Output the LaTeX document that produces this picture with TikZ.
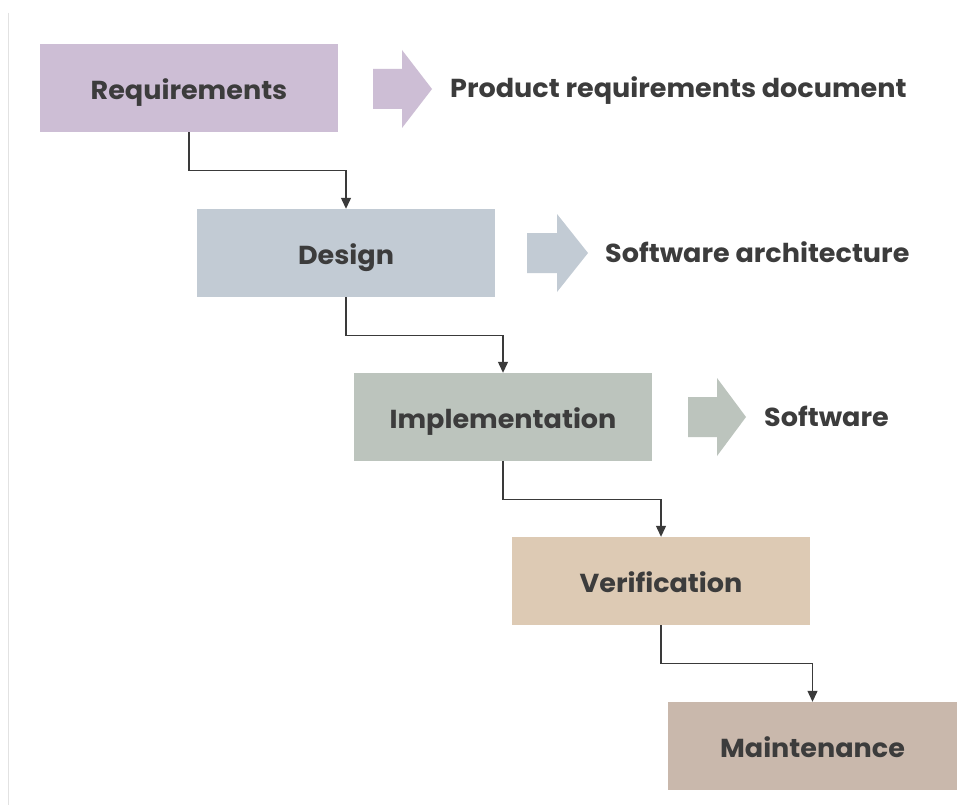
\documentclass[tikz,border=0pt]{standalone}
\usepackage{fontspec}
\setmainfont{Poppins}[FakeStretch=1.04]
\usetikzlibrary{arrows.meta,calc}

\definecolor{txt}{HTML}{3C3C3C}
\definecolor{wire}{HTML}{3A3A3A}
\definecolor{cReq}{HTML}{CDBED5}
\definecolor{cDes}{HTML}{C2CBD4}
\definecolor{cImp}{HTML}{BCC4BD}
\definecolor{cVer}{HTML}{DDCAB4}
\definecolor{cMai}{HTML}{C9B8AC}
\definecolor{rule}{HTML}{E2E2E2}

\tikzset{
  stage/.style={fill=#1, draw=none, minimum width=298pt, minimum height=88pt,
    inner sep=0pt, text=txt, text height=25pt, text depth=2pt,
    font=\fontsize{26}{30}\selectfont\bfseries},
  output/.style={anchor=base west, inner sep=0pt, text=txt,
    font=\fontsize{26}{30}\selectfont\bfseries},
  link/.style={draw=wire, line width=1.2pt, -{Triangle[width=10pt,length=11pt]}},
}

% block arrow: (shaft start x, head start x, tip x, centre y)
\newcommand{\blockarrow}[5]{%
  \fill[#5] (#1,#4-20) -- (#2,#4-20) -- (#2,#4-39) -- (#3,#4) -- (#2,#4+39)
    -- (#2,#4+20) -- (#1,#4+20) -- cycle;}

\begin{document}
\begin{tikzpicture}[x=1pt,y=-1pt]
  \useasboundingbox (0,0) rectangle (957,805);
  \fill[white] (0,0) rectangle (957,805);
  \draw[rule, line width=1.5pt] (8.5,13) -- (8.5,805);

  % stages
  \node[stage=cReq] (req) at (189,88)  {Requirements};
  \node[stage=cDes] (des) at (346,253) {Design};
  \node[stage=cImp] (imp) at (503,417) {Implementation};
  \node[stage=cVer] (ver) at (661,581) {Verification};
  \node[stage=cMai, minimum width=289pt] (mai) at (812.5,746) {Maintenance};

  % deliverables
  \blockarrow{373}{402}{432}{89}{cReq}
  \blockarrow{527}{557}{588}{253}{cDes}
  \blockarrow{688}{717}{746}{417}{cImp}
  \node[output] (prd) at (450,98)  {Product requirements document};
  \node[output] (arch) at (605,262) {Software architecture};
  \node[output] (sw) at (764,426) {Software};

  % waterfall connectors
  \draw[link] (req.south) -- ++(0,38) -| (des.north);
  \draw[link] (des.south) -- ++(0,38) -| (imp.north);
  \draw[link] (imp.south) -- ++(0,38) -| (ver.north);
  \draw[link] (ver.south) -- ++(0,38) -| (mai.north);
\end{tikzpicture}
\end{document}
